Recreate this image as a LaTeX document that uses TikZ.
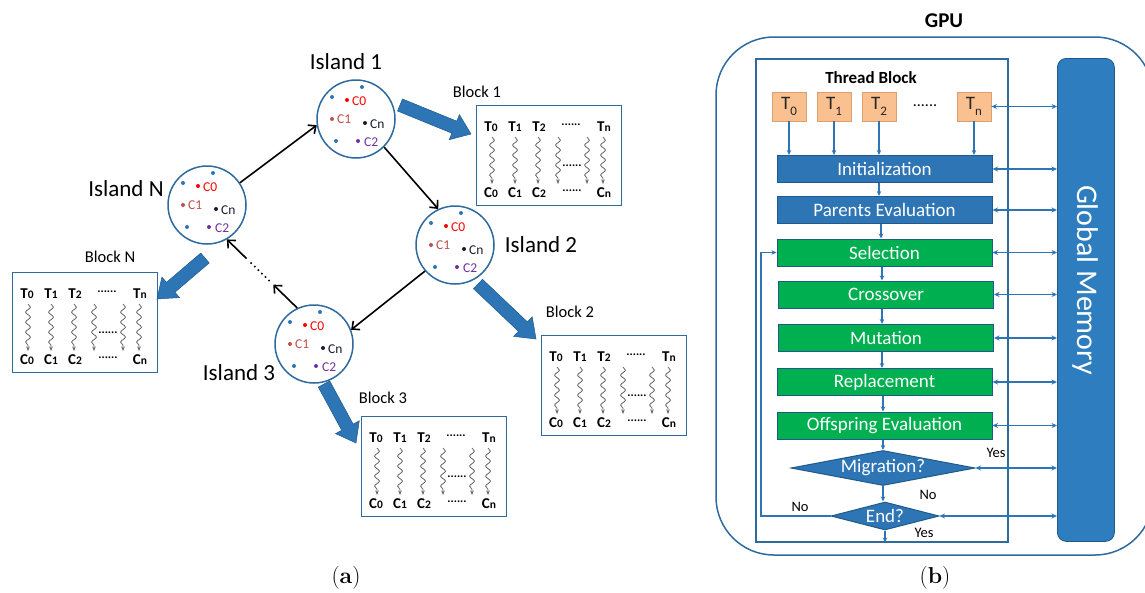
\documentclass[tikz,border=0pt]{standalone}
\usepackage{fontspec}
\newfontfamily\calibri{Carlito}
\usetikzlibrary{arrows.meta,shapes.geometric,decorations.pathmorphing,calc}

\definecolor{ilblue}{HTML}{2E6A9E}
\definecolor{boxblue}{HTML}{2E75B6}
\definecolor{boxedge}{HTML}{1F5A8A}
\definecolor{boxgreen}{HTML}{00B050}
\definecolor{gmblue}{HTML}{2E7DBF}
\definecolor{peach}{HTML}{FAC090}
\definecolor{peachedge}{HTML}{D9A070}
\definecolor{cred}{HTML}{FF0000}
\definecolor{cbrown}{HTML}{C0504D}
\definecolor{cpurple}{HTML}{7030A0}
\definecolor{cdark}{HTML}{1A1A2E}

\newcommand\fs[1]{\fontsize{#1}{#1}\selectfont}

% thick block arrow from #1 to #2
\newcommand\fatarrow[2]{%
  \coordinate (fa-n) at ($(#2)!18pt!(#1)$);
  \filldraw[fat] ($(#1)!6.5pt!90:(#2)$) -- ($(fa-n)!6.5pt!90:(#2)$) -- ($(fa-n)!13.5pt!90:(#2)$)
    -- (#2) -- ($(fa-n)!13.5pt!-90:(#2)$) -- ($(fa-n)!6.5pt!-90:(#2)$) -- ($(#1)!6.5pt!-90:(#2)$) -- cycle;}

\tikzset{
  island/.style={circle, draw=ilblue, line width=1.5pt, fill=white, minimum size=78pt, inner sep=0pt},
  isltitle/.style={font=\calibri\fs{23}},
  blktitle/.style={font=\calibri\fs{16.5}},
  blockbox/.style={draw=ilblue, line width=1.4pt, fill=white, minimum width=145pt, minimum height=100pt, anchor=north west, inner sep=0pt},
  ring/.style={-{Straight Barb[length=6pt,width=11pt]}, line width=1.6pt, black},
  ringdots/.style={line width=2.2pt, line cap=round, dash pattern=on 0pt off 5pt, black},
  fat/.style={fill=boxblue, draw=boxedge, line width=0.5pt},
  wave/.style={decorate, decoration={snake, amplitude=2.4pt, segment length=10pt, post length=5pt},
    -{Stealth[length=4.5pt,width=3.5pt]}, line width=0.8pt, black!60},
  clab/.style={anchor=west, inner sep=0pt, font=\calibri\fs{13.5}},
  tlab/.style={inner sep=0pt, font=\calibri\bfseries\fs{15}},
  dotlab/.style={inner sep=0pt, font=\calibri\bfseries\fs{12}},
  fbox/.style={draw=boxedge, line width=1pt, minimum width=215pt, minimum height=27pt, inner sep=0pt,
    text=white, font=\calibri\fs{19}},
  bluebox/.style={fbox, fill=boxblue},
  greenbox/.style={fbox, fill=boxgreen},
  decision/.style={diamond, draw=boxedge, line width=1pt, fill=boxblue, inner sep=0pt},
  thr/.style={draw=peachedge, line width=0.8pt, fill=peach, minimum width=34pt, minimum height=29pt,
    inner sep=0pt, font=\calibri\fs{19}, text=black!85},
  flowarr/.style={-{Stealth[length=5pt,width=4.5pt]}, boxblue, line width=1.2pt},
  biarr/.style={{Stealth[length=5.5pt,width=5pt]}-{Stealth[length=5.5pt,width=5pt]}, boxblue, line width=1.2pt},
  yn/.style={inner sep=0pt, font=\calibri\fs{14.5}},
  isldots/.pic={
    \fill[boxblue] (-24,-22) circle (2pt) (6,-32) circle (2pt) (-20,22) circle (2pt);
    \fill[cred] (-9,-19) circle (2pt);
    \node[clab, text=cred] at (-4,-18) {C0};
    \fill[cbrown] (-24,0) circle (2pt);
    \node[clab, text=cbrown] at (-19,0) {C1};
    \fill[cdark] (9,4) circle (2pt);
    \node[clab, text=cdark] at (14,5) {Cn};
    \fill[cpurple] (2,22) circle (2pt);
    \node[clab, text=cpurple] at (8,23) {C2};
  },
  blkin/.pic={
    \foreach \x/\t in {15/0,39/1,63/2,128/n} {
      \node[tlab] at (\x,22) {T{\fs{11.5}\t}};
      \node[tlab] at (\x,88) {C{\fs{11.5}\t}};
    }
    \node[dotlab] at (95,20) {......};
    \node[dotlab] at (96,86) {......};
    \node[dotlab] at (96,61) {......};
    \foreach \x in {16,39,62,82,111,127} \draw[wave] (\x,32) -- (\x,79);
  }
}

\begin{document}
\begin{tikzpicture}[x=1pt, y=-1pt, font=\calibri]
\useasboundingbox (0,0) rectangle (1145,592);
\clip (0,0) rectangle (1145,592);

% ---------------- (a) island model ----------------
\node[island] (i1) at (356,119) {};
\node[island] (i2) at (455,245) {};
\node[island] (i3) at (314,344) {};
\node[island] (iN) at (207,205) {};
\foreach \n in {i1,i2,i3,iN} \pic at (\n) {isldots};

\node[isltitle] (t1) at (346,62) {Island 1};
\node[isltitle] (t2) at (541,245) {Island 2};
\node[isltitle] (t3) at (239,373) {Island 3};
\node[isltitle] (tN) at (126,189) {Island N};

% migration ring between islands
\draw[ring] (iN.34) -- (i1.189);
\draw[ring] (i1.-45) -- (i2.115);
\draw[ring] (i2.221) -- (i3.21);
\coordinate (r1) at ($(i3.115)!0.34!(iN.-60)$);
\coordinate (r2) at ($(i3.115)!0.40!(iN.-60)$);
\coordinate (r3) at ($(i3.115)!0.68!(iN.-60)$);
\coordinate (r4) at ($(i3.115)!0.72!(iN.-60)$);
\draw[ring] (i3.115) -- (r1);
\draw[ringdots] (r2) -- (r3);
\draw[ring] (r4) -- (iN.-60);

% thread blocks
\node[blockbox] (b1) at (476,105) {};
\node[blockbox] (b2) at (541,335) {};
\node[blockbox] (b3) at (361,416) {};
\node[blockbox] (bN) at (12,272) {};
\foreach \n in {b1,b2,b3,bN} \pic at (\n.north west) {blkin};

\node[blktitle] (bt1) at (477,92) {Block 1};
\node[blktitle] (bt2) at (570,312) {Block 2};
\node[blktitle] (bt3) at (383,398) {Block 3};
\node[blktitle] (btN) at (110,257) {Block N};

% block arrows from islands to their thread blocks
\coordinate (f1a) at (400,105); \coordinate (f1b) at (471,134);
\coordinate (f2a) at (478,284); \coordinate (f2b) at (536,339);
\coordinate (f3a) at (324,384); \coordinate (f3b) at (356,443);
\coordinate (fNa) at (205,258); \coordinate (fNb) at (157,299);
\fatarrow{f1a}{f1b}
\fatarrow{f2a}{f2b}
\fatarrow{f3a}{f3b}
\fatarrow{fNa}{fNb}

\node[font=\rmfamily\fs{23}] (capa) at (346,578) {(\textbf{a})};

% ---------------- (b) GPU ----------------
\draw[ilblue, line width=1.5pt, rounded corners=58pt] (716,37) rectangle (1153,555);
\node[font=\calibri\bfseries\fs{21}] (gpu) at (944,21) {GPU};

\node[draw=ilblue, line width=1.5pt, minimum width=252pt, minimum height=483pt, anchor=north west, inner sep=0pt] (tb) at (755,58) {};
\node[fill=gmblue, draw=boxedge, line width=0.8pt, rounded corners=9pt, minimum width=57pt, minimum height=483pt, anchor=north west, inner sep=0pt] (gm) at (1057,58) {};
\node[rotate=-90, text=white, font=\calibri\fs{30}] (gmt) at (1085.5,280) {Global Memory};

\node[font=\calibri\bfseries\fs{17}] (tbt) at (871,78) {Thread Block};

\node[thr] (th0) at (789,106.5) {T\raisebox{-0.28em}{\fs{13}0}};
\node[thr] (th1) at (834,106.5) {T\raisebox{-0.28em}{\fs{13}1}};
\node[thr] (th2) at (879,106.5) {T\raisebox{-0.28em}{\fs{13}2}};
\node[thr] (thn) at (974,106.5) {T\raisebox{-0.28em}{\fs{13}n}};
\node[font=\calibri\fs{16}] (thd) at (925,106) {......};

\node[bluebox] (init) at (884.5,169) {Initialization};
\node[bluebox] (par) at (884.5,210) {Parents Evaluation};
\node[greenbox] (sel) at (884.5,252.5) {Selection};
\node[greenbox] (cro) at (886,294.5) {Crossover};
\node[greenbox] (mut) at (886,338) {Mutation};
\node[greenbox] (rep) at (884.5,382) {Replacement};
\node[greenbox] (off) at (884.5,425.5) {Offspring Evaluation};
\node[decision, minimum width=184pt, minimum height=35pt] (mig) at (883,468) {};
\node[text=white, font=\calibri\fs{19}] (migt) at (883,468) {Migration?};
\node[decision, minimum width=108pt, minimum height=28pt] (end) at (885,516) {};
\node[text=white, font=\calibri\fs{19}] (endt) at (885,516) {End?};

% thread start arrows
\foreach \t in {th0,th1,th2,thn} \draw[flowarr] (\t.south) -- (\t.south |- init.north);

% flow down the block
\draw[flowarr] (init.south -| 879,0) -- (879,0 |- par.north);
\draw[flowarr] (par.south -| 881,0) -- (881,0 |- sel.north);
\draw[flowarr] (sel.south -| 882,0) -- (882,0 |- cro.north);
\draw[flowarr] (cro.south -| 882,0) -- (882,0 |- mut.north);
\draw[flowarr] (mut.south -| 882,0) -- (882,0 |- rep.north);
\draw[flowarr] (rep.south -| 883,0) -- (883,0 |- off.north);
\draw[flowarr] (off.south -| 883,0) -- (mig.north);
\draw[flowarr] (mig.south) -- (mig.south |- end.north);
\draw[flowarr] (end.south) -- (end.south |- tb.south);

% loop back to selection
\coordinate (lp) at (761,0);
\draw[flowarr] (end.west) -- (end.west -| lp) |- (sel.west);

% global memory accesses
\foreach \b in {thn,init,par,sel,cro,mut,rep,off,mig,end}
  \draw[biarr] (\b.east) -- (\b.east -| gm.west);

\node[yn] (yes1) at (996,453) {Yes};
\node[yn] (no1) at (928,495) {No};
\node[yn] (no2) at (800,507) {No};
\node[yn] (yes2) at (924,533) {Yes};

\node[font=\rmfamily\fs{23}] (capb) at (935,578) {(\textbf{b})};
\end{tikzpicture}
\end{document}
